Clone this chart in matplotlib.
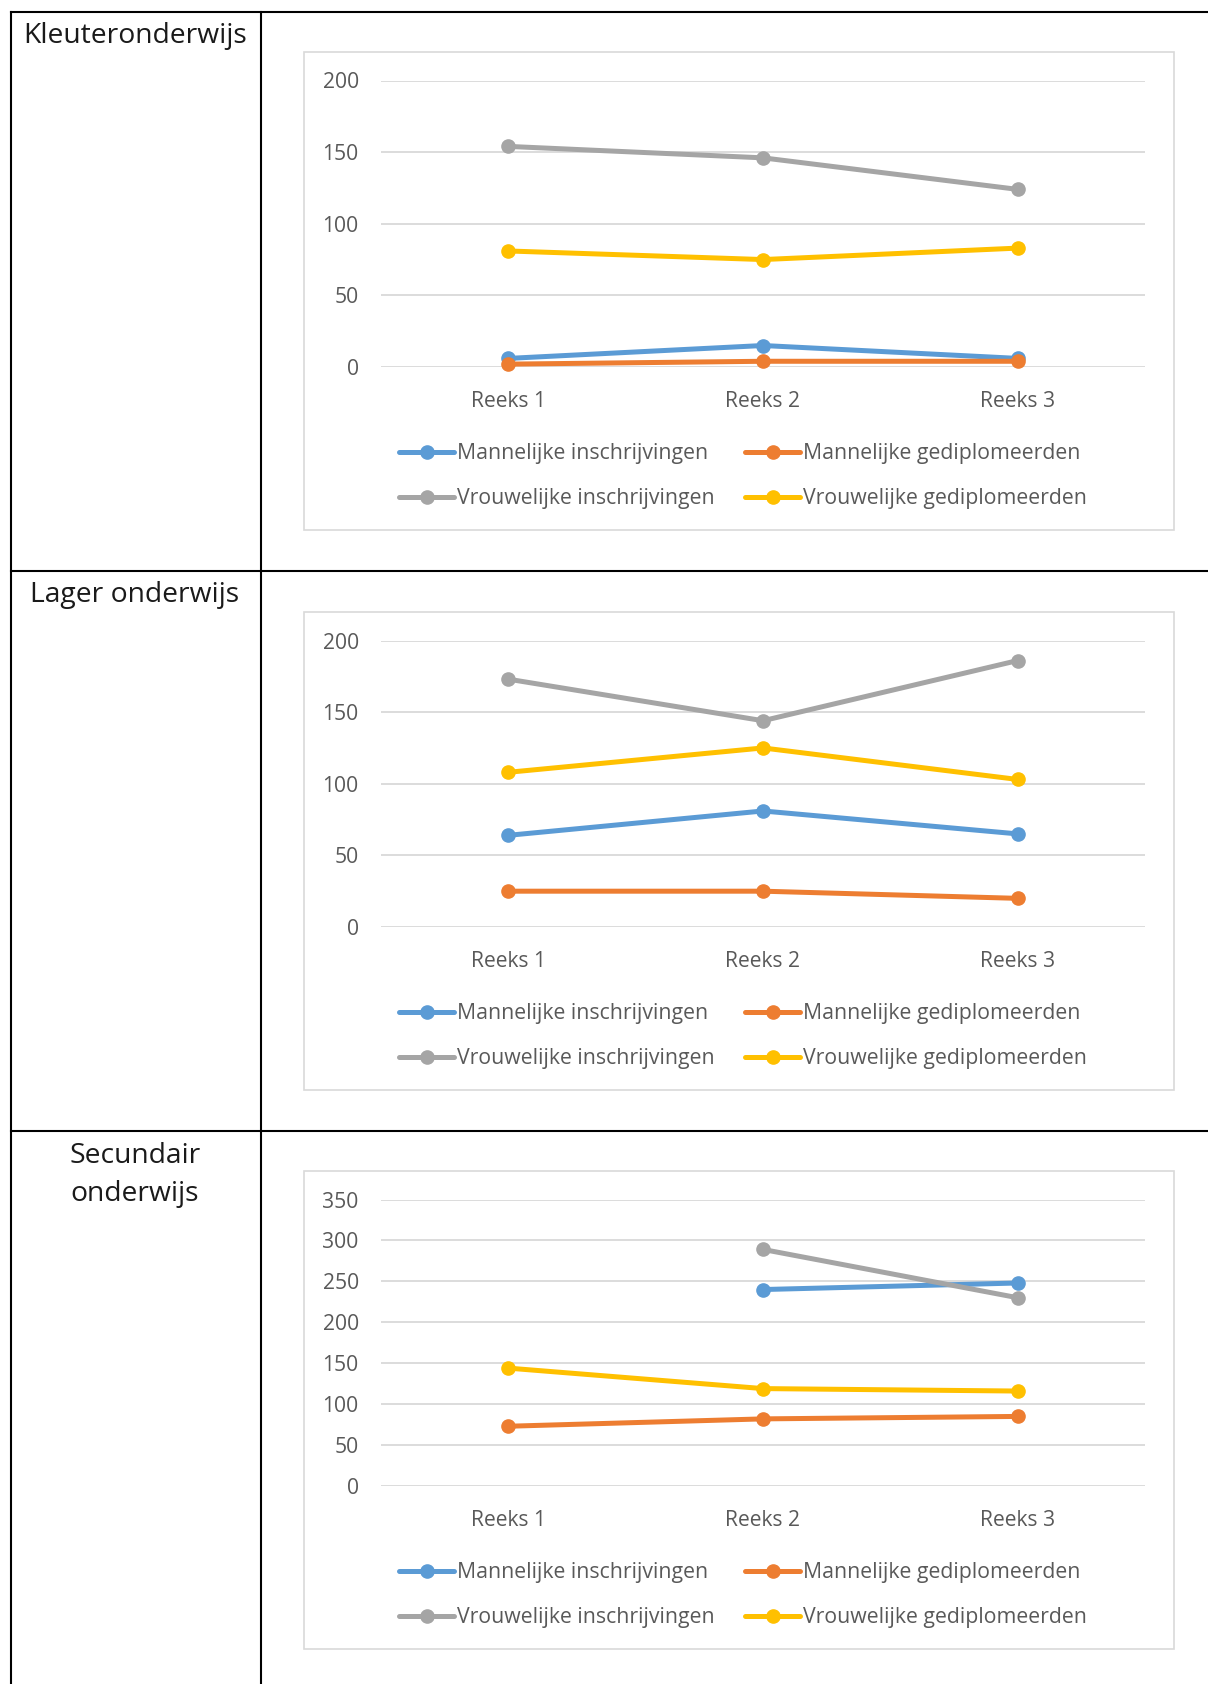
import numpy as np
import matplotlib
matplotlib.use('Agg')
import matplotlib.pyplot as plt
from matplotlib.lines import Line2D
from matplotlib.patches import Rectangle

plt.rcParams['font.family'] = ['Open Sans', 'DejaVu Sans']

categories = ['Reeks 1', 'Reeks 2', 'Reeks 3']
series_names = ['Mannelijke inschrijvingen', 'Mannelijke gediplomeerden',
                'Vrouwelijke inschrijvingen', 'Vrouwelijke gediplomeerden']
colors = ['#5B9BD5', '#ED7D31', '#A5A5A5', '#FFC000']

# Kleuteronderwijs
kleuter_man_inschr = [6, 15, 6]
kleuter_man_dipl = [2, 4, 4]
kleuter_vrouw_inschr = [154, 146, 124]
kleuter_vrouw_dipl = [81, 75, 83]

# Lager onderwijs
lager_man_inschr = [64, 81, 65]
lager_man_dipl = [25, 25, 20]
lager_vrouw_inschr = [173, 144, 186]
lager_vrouw_dipl = [108, 125, 103]

# Secundair onderwijs (Reeks 1 ontbreekt voor inschrijvingen)
sec_man_inschr = [np.nan, 240, 248]
sec_man_dipl = [73, 82, 85]
sec_vrouw_inschr = [np.nan, 289, 230]
sec_vrouw_dipl = [144, 119, 116]

row_titles = ['Kleuteronderwijs', 'Lager onderwijs', 'Secundair\nonderwijs']
y_max = [200, 200, 350]

W, H = 1208, 1684
fig = plt.figure(figsize=(W / 100, H / 100), dpi=100)


def fx(px):
    return px / W


def fy(py):
    return 1 - py / H


def hline(x0, x1, y, **kw):
    fig.add_artist(Line2D([fx(x0), fx(x1)], [fy(y), fy(y)], transform=fig.transFigure, **kw))


def vline(x, y0, y1, **kw):
    fig.add_artist(Line2D([fx(x), fx(x)], [fy(y0), fy(y1)], transform=fig.transFigure, **kw))


# table lines
tbl = dict(color='black', lw=1.5)
hline(11, W, 12, **tbl)
hline(11, W, 571, **tbl)
hline(11, W, 1131, **tbl)
vline(11, 12, H, **tbl)
vline(261, 12, H, **tbl)

title_y = [36, 595, 1175]
box_tops = [52, 612, 1171]

data = [
    [kleuter_man_inschr, kleuter_man_dipl, kleuter_vrouw_inschr, kleuter_vrouw_dipl],
    [lager_man_inschr, lager_man_dipl, lager_vrouw_inschr, lager_vrouw_dipl],
    [sec_man_inschr, sec_man_dipl, sec_vrouw_inschr, sec_vrouw_dipl],
]

for i in range(3):
    fig.text(fx(135), fy(title_y[i]), row_titles[i], ha='center', va='center',
             fontsize=20.3, color='#1a1a1a', linespacing=1.45)

    bt = box_tops[i]
    fig.add_artist(Rectangle((fx(304), fy(bt + 478)), fx(1174) - fx(304), fy(bt) - fy(bt + 478),
                             transform=fig.transFigure, fill=False, ec='#D9D9D9', lw=1.2))

    top = bt + 28.5
    bot = bt + 315
    ax = fig.add_axes([fx(381), fy(bot), fx(1145) - fx(381), fy(top) - fy(bot)])
    x = np.arange(len(categories))
    handles = []
    for s in range(4):
        h, = ax.plot(x, data[i][s], color=colors[s], lw=3.6, marker='o', ms=9.5,
                     solid_capstyle='round', label=series_names[s])
        h.set_clip_on(False)
        handles.append(h)
    ax.set_xlim(-0.5, 2.5)
    ax.set_ylim(0, y_max[i])
    ax.set_yticks(np.arange(0, y_max[i] + 1, 50))
    ax.set_xticks(x)
    ax.set_xticklabels(categories)
    ax.grid(axis='y', color='#D9D9D9', lw=1.3)
    ax.set_axisbelow(True)
    for sp in ax.spines.values():
        sp.set_visible(False)
    ax.tick_params(length=0, labelsize=15.2, colors='#595959')
    ax.tick_params(axis='y', pad=16)
    ax.tick_params(axis='x', pad=17)

    # legend in two columns
    leg_y = bt + 391
    for idx, lx in [((0, 2), 399), ((1, 3), 745)]:
        fig.legend([handles[k] for k in idx], [series_names[k] for k in idx],
                   loc='upper left', bbox_to_anchor=(fx(lx), fy(leg_y)),
                   bbox_transform=fig.transFigure, frameon=False, fontsize=15.3,
                   handlelength=2.6, handletextpad=0.15, labelspacing=1.15,
                   borderpad=0, borderaxespad=0, labelcolor='#595959')

fig.savefig('out.png', dpi=100)
